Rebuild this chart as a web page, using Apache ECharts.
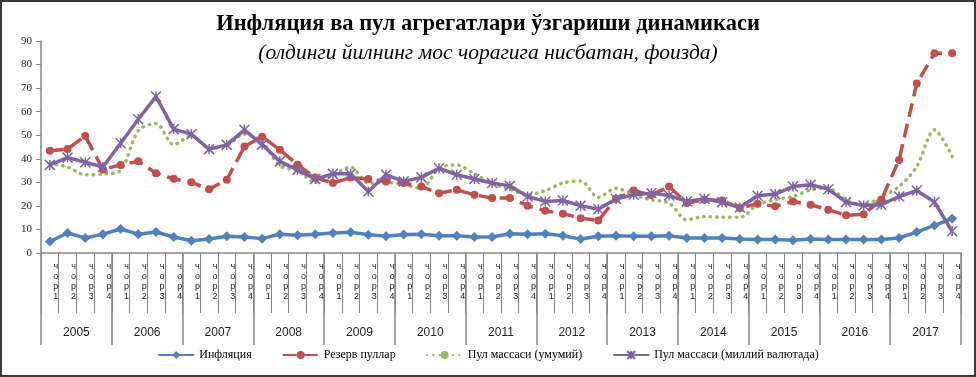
<!DOCTYPE html>
<html>
<head>
<meta charset="utf-8">
<script src="https://cdn.jsdelivr.net/npm/echarts@6/dist/echarts.min.js"></script>
<style>
html,body{margin:0;padding:0;background:#fff;}
#wrap{position:relative;width:976px;height:377px;}
#chart{width:976px;height:377px;}
#frame{position:absolute;left:0;top:0;width:976px;height:377px;box-sizing:border-box;border:2px solid #3a3a3a;pointer-events:none;}
</style>
</head>
<body>
<div id="wrap"><div id="chart"></div><div id="frame"></div></div>
<script>
const years = ['2005','2006','2007','2008','2009','2010','2011','2012','2013','2014','2015','2016','2017'];
const quarterLabels = ['1','2','3','4'];
const yTicks = { min: 0, max: 90, interval: 10 };

const inflation = [4.9,8.5,6.4,8.0,10.2,8.0,8.9,6.8,5.2,5.9,7.1,6.8,6.1,8.0,7.5,8.0,
  8.5,8.8,7.8,7.1,7.9,8.0,7.3,7.3,6.8,6.8,8.2,8.0,8.2,7.3,5.9,7.1,7.3,7.1,
  7.1,7.3,6.4,6.4,6.4,5.9,5.7,5.7,5.4,5.9,5.7,5.7,5.7,5.7,6.4,8.9,11.7,14.6];
const reserve = [43.4,44.1,49.7,35.5,37.4,38.9,33.9,31.5,30.0,27.1,31.1,45.2,49.4,43.8,37.5,32.0,
  29.7,32.0,31.4,30.4,29.7,28.2,25.4,26.8,24.7,23.3,23.3,20.1,17.9,16.7,14.8,13.8,23.0,26.5,
  24.6,28.2,21.2,22.6,22.3,19.1,20.9,19.8,21.9,20.5,18.4,16.0,16.5,22.6,39.5,72.0,84.8,84.8];
const moneyTotal = [38.0,36.5,33.2,33.5,35.0,52.0,55.0,46.0,49.7,44.5,45.5,50.5,47.3,37.0,35.0,30.0,
  33.0,36.5,29.7,30.0,29.0,27.5,36.0,37.4,33.6,29.5,27.1,24.7,26.5,29.7,30.6,23.6,27.5,24.7,
  22.6,21.2,14.1,15.5,15.2,15.2,20.5,22.6,24.0,26.8,27.5,22.6,20.2,24.0,28.2,36.7,52.3,41.0];
const moneyNational = [37.4,40.5,38.5,36.5,46.6,56.8,66.4,52.6,50.4,44.1,45.9,52.3,46.0,38.9,35.3,31.4,
  33.6,33.6,26.1,33.2,30.4,32.1,36.0,33.2,31.4,29.7,28.5,24.0,21.9,22.3,20.1,18.6,22.9,24.7,
  25.4,24.4,21.9,23.0,21.5,19.3,24.3,25.0,28.2,29.0,27.1,21.6,20.2,20.5,24.0,26.5,21.6,9.2];

const seriesNames = ['Инфляция','Резерв пуллар','Пул массаси (умумий)','Пул массаси (миллий валютада)'];
const titleText = 'Инфляция ва пул агрегатлари ўзгариши динамикаси';
const subtitleText = '(олдинги йилнинг мос чорагига нисбатан, фоизда)';

const categories = [];
years.forEach(y => quarterLabels.forEach(q => categories.push(y + '-' + q)));

const axisGray = '#868686';
const chart = echarts.init(document.getElementById('chart'), null, {renderer:'canvas'});
chart.setOption({
  animation: false,
  backgroundColor: '#ffffff',
  title: [
    {text: titleText, left: 'center', top: 8,
     textStyle: {fontFamily: 'Liberation Serif', fontWeight: 'bold', fontSize: 22.5, color: '#000'}},
    {text: subtitleText, left: 'center', top: 37,
     textStyle: {fontFamily: 'Liberation Serif', fontStyle: 'italic', fontWeight: 'normal', fontSize: 21.5, color: '#000'}}
  ],
  legend: {
    bottom: 11, left: 'center', itemWidth: 36, itemHeight: 10, itemGap: 30,
    textStyle: {fontFamily: 'Liberation Serif', fontSize: 12, color: '#000'},
    data: seriesNames
  },
  grid: {left: 41, right: 15, top: 41, bottom: 124, containLabel: false},
  xAxis: [
    {type: 'category', data: categories, boundaryGap: true, position: 'bottom',
     axisLine: {lineStyle: {color: axisGray, width: 1.5}},
     axisTick: {show: true, interval: 0, length: 60, lineStyle: {color: axisGray, width: 1}},
     axisLabel: {interval: 0, margin: 9, fontSize: 9, lineHeight: 10, color: '#222',
       fontFamily: 'Liberation Sans', padding: [0,0,0,12],
       formatter: v => 'ч\nо\nр\n' + v.split('-')[1]},
     splitLine: {show: false}},
    {type: 'category', data: years, boundaryGap: true, position: 'bottom',
     axisLine: {show: false},
     axisTick: {show: true, interval: 0, length: 92, lineStyle: {color: axisGray, width: 1.5}},
     axisLabel: {interval: 0, margin: 74, fontSize: 12, color: '#222', fontFamily: 'Liberation Sans'},
     splitLine: {show: false}}
  ],
  yAxis: {
    type: 'value', min: yTicks.min, max: yTicks.max, interval: yTicks.interval,
    axisLine: {show: true, lineStyle: {color: axisGray, width: 1.5}},
    axisTick: {show: true, length: 5, lineStyle: {color: axisGray}},
    axisLabel: {fontFamily: 'Liberation Serif', fontSize: 11, color: '#222', margin: 9},
    splitLine: {show: false}
  },
  series: [
    {name: seriesNames[0], type: 'line', data: inflation, xAxisIndex: 0,
     symbol: 'diamond', symbolSize: 10, z: 5,
     lineStyle: {color: '#4F81BD', width: 3.5},
     itemStyle: {color: '#4F81BD'}},
    {name: seriesNames[1], type: 'line', data: reserve, xAxisIndex: 0,
     symbol: 'circle', symbolSize: 8, z: 4,
     lineStyle: {color: '#C0504D', width: 3.5, type: [14, 7]},
     itemStyle: {color: '#C0504D'}},
    {name: seriesNames[2], type: 'line', data: moneyTotal, xAxisIndex: 0,
     symbol: 'none', smooth: 0.3, z: 3,
     lineStyle: {color: '#9BBB59', width: 3.5, type: [0.5, 6], cap: 'round'},
     itemStyle: {color: '#9BBB59'}},
    {name: seriesNames[3], type: 'line', data: moneyNational, xAxisIndex: 0,
     symbol: 'path://M0,0L10,10M10,0L0,10M5,0L5,10', symbolSize: 10, z: 6,
     lineStyle: {color: '#8064A2', width: 3.5},
     itemStyle: {color: 'rgba(0,0,0,0)', borderColor: '#8064A2', borderWidth: 1.5}}
  ]
});
</script>
</body>
</html>
